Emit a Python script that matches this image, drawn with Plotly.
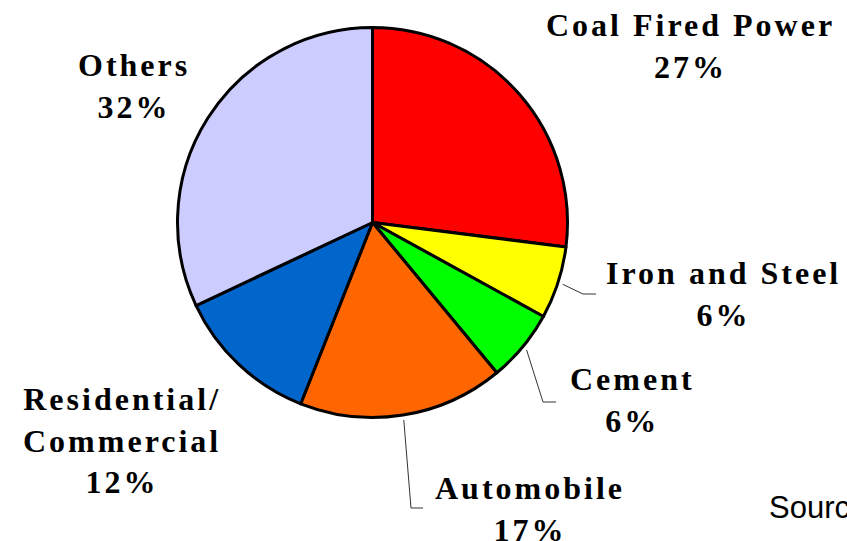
import numpy as np
import plotly.graph_objects as go

# ---- data ----
categories = ["Coal Fired Power", "Iron and Steel", "Cement", "Automobile",
              "Residential/<br>Commercial", "Others"]
shares = [27, 6, 6, 17, 12, 32]
colors = ["#FF0000", "#FFFF00", "#00FF00", "#FF6600", "#0066CC", "#CCCCFF"]

# ---- layout constants (pixels) ----
W, H = 847, 541
CX, CY, R = 372.5, 222.5, 195

def px(x):
    return x / W

def py(y):
    return 1 - y / H

fig = go.Figure(go.Pie(
    labels=categories,
    values=shares,
    sort=False,
    direction="clockwise",
    rotation=0,
    marker=dict(colors=colors, line=dict(color="black", width=3)),
    textinfo="none",
    hoverinfo="skip",
    domain=dict(x=[px(CX - R), px(CX + R)], y=[py(CY + R), py(CY - R)]),
))

# label positions (center of each text block, pixels)
label_pos = {
    "Coal Fired Power": (690, 46),
    "Iron and Steel": (723, 294),
    "Cement": (632, 400),
    "Automobile": (530, 509),
    "Residential/<br>Commercial": (122, 440),
    "Others": (134, 86),
}

font = dict(family="Liberation Serif", size=32, color="black")
annotations = []
for cat, val in zip(categories, shares):
    x, y = label_pos[cat]
    annotations.append(dict(
        text=f"<b>{cat}<br>{val}%</b>", x=px(x), y=py(y), xref="paper", yref="paper",
        xanchor="center", yanchor="middle", showarrow=False, align="center",
        font=font,
    ))

annotations.append(dict(
    text="Source", x=px(767), y=py(507), xref="paper", yref="paper",
    xanchor="left", yanchor="middle", showarrow=False,
    font=dict(family="Liberation Sans, Arial, sans-serif", size=31, color="black"),
))

# leader lines: start at slice mid-angle, just outside the rim
cum = np.cumsum([0] + shares)
total = cum[-1]
elbows = {
    "Iron and Steel": [(583, 294), (596, 294)],
    "Cement": [(543, 402), (556, 402)],
    "Automobile": [(411, 508), (423, 508)],
}
shapes = []
for i, cat in enumerate(categories):
    if cat not in elbows:
        continue
    mid = (cum[i] + cum[i + 1]) / 2 / total * 2 * np.pi
    sx = CX + (R + 5) * np.sin(mid)
    sy = CY - (R + 5) * np.cos(mid)
    pts = [(sx, sy)] + elbows[cat]
    path = "M " + " L ".join(f"{px(a):.5f},{py(b):.5f}" for a, b in pts)
    shapes.append(dict(type="path", path=path, xref="paper", yref="paper",
                       line=dict(color="#333333", width=1)))

fig.update_layout(
    width=W, height=H,
    margin=dict(l=0, r=0, t=0, b=0),
    paper_bgcolor="white", plot_bgcolor="white",
    showlegend=False,
    annotations=annotations,
    shapes=shapes,
)

post = """
document.body.style.margin = '0';
document.body.style.overflow = 'hidden';
document.querySelectorAll('text.annotation-text').forEach(function(t){
  if (t.textContent.indexOf('Source') < 0) { t.style.letterSpacing = '3px'; }
});
"""
fig.write_html("out.html", post_script=post, config={"displayModeBar": False})
